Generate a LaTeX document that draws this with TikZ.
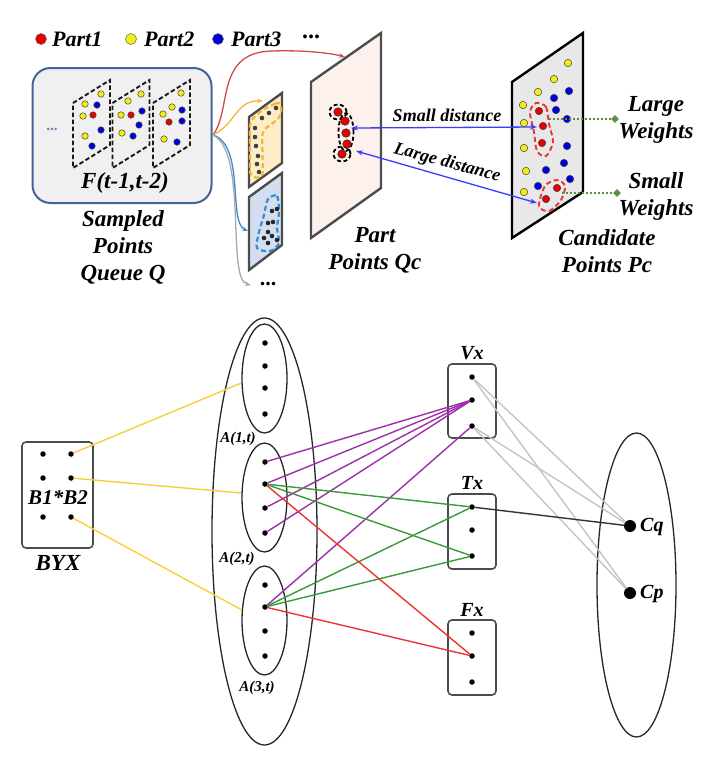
\documentclass[tikz,border=0pt]{standalone}
\usepackage{fontspec}
\setmainfont{Liberation Serif}
\usetikzlibrary{arrows.meta,shapes.geometric}
\definecolor{boxblue}{HTML}{41649B}
\definecolor{boxfill}{HTML}{F0F0F0}
\definecolor{rdot}{HTML}{E80000}
\definecolor{ydot}{HTML}{F2EE10}
\definecolor{bdot}{HTML}{0000DD}
\definecolor{arrred}{HTML}{D24A4A}
\definecolor{arrorange}{HTML}{F5B43A}
\definecolor{arrblue}{HTML}{3A8AD0}
\definecolor{arrgray}{HTML}{A8A8A8}
\definecolor{pinkfill}{HTML}{FDF1EE}
\definecolor{yelfill}{HTML}{FDEEC8}
\definecolor{bluefill}{HTML}{D3DFF0}
\definecolor{candfill}{HTML}{E8E8E8}
\definecolor{distblue}{HTML}{3B3BFF}
\definecolor{wgreen}{HTML}{5A8F3C}
\definecolor{lpurple}{HTML}{9B30A8}
\definecolor{lgreen}{HTML}{3A9A3A}
\definecolor{lred}{HTML}{EE3333}
\definecolor{lgray}{HTML}{C4C4C4}
\definecolor{lyellow}{HTML}{F8CF3A}
\begin{document}
\begin{tikzpicture}[x=1pt,y=-1pt,
  txt/.style={font=\fontsize{23}{27}\selectfont\bfseries\itshape, inner sep=0pt, align=center},
  legtxt/.style={font=\fontsize{22}{24}\selectfont\bfseries\itshape, inner sep=0pt, anchor=west},
  disttxt/.style={font=\fontsize{18}{20}\selectfont\bfseries\itshape, inner sep=0pt},
  atxt/.style={font=\fontsize{15}{18}\selectfont\bfseries\itshape, inner sep=0pt},
  gtxt/.style={font=\fontsize{20}{24}\selectfont\bfseries\itshape, inner sep=0pt},
  cdot/.style={circle, draw=black!75, line width=0.5pt, inner sep=0pt, minimum size=6.5pt},
  Rd/.style={cdot, fill=rdot},
  Yd/.style={cdot, fill=ydot},
  Bd/.style={cdot, fill=bdot},
  legdot/.style={circle, draw=black!60, line width=0.5pt, inner sep=0pt, minimum size=11pt},
  bigRd/.style={circle, draw=black!80, line width=0.6pt, fill=rdot, inner sep=0pt, minimum size=8.5pt},
  pdot/.style={circle, fill=black, inner sep=0pt, minimum size=5.5pt},
  bigdot/.style={circle, fill=black, inner sep=0pt, minimum size=12pt},
  panel/.style={line width=2.4pt, line join=miter},
  frame/.style={dashed, dash pattern=on 4.5pt off 2.5pt, line width=1.9pt, black!90},
  ell/.style={ellipse, draw=black!85, line width=1.3pt, inner sep=0pt},
  gbox/.style={draw=black!70, line width=1.6pt, rounded corners=4pt, inner sep=0pt},
  flow/.style={line width=1.3pt, -{Stealth[length=6pt,width=4.5pt]}},
  link/.style={line width=1.4pt},
  wdia/.style={diamond, fill=wgreen, inner sep=0pt, minimum size=8pt}
]
\useasboundingbox (0,0) rectangle (721,772);

% ---------------- legend ----------------
\node[legdot, fill=rdot] (lr) at (41,39) {};
\node[legtxt] (lrt) at (52,39) {Part1};
\node[legdot, fill=ydot] (ly) at (131,39) {};
\node[legtxt] (lyt) at (144,39) {Part2};
\node[legdot, fill=bdot] (lb) at (218,39) {};
\node[legtxt] (lbt) at (231,39) {Part3};
\node[font=\fontsize{24}{24}\selectfont\bfseries, inner sep=0pt] (ldots) at (311,37) {...};

% ---------------- sampled points queue ----------------
\node[draw=boxblue, fill=boxfill, line width=2pt, rounded corners=18pt,
      minimum width=179pt, minimum height=135pt, inner sep=0pt] (queue) at (122,135.5) {};
\foreach \o in {0,39.5,80} {
  \draw[frame] (73+\o,103) -- (110+\o,80) -- (110+\o,145) -- (73+\o,168) -- cycle;
}
\node[font=\fontsize{15}{15}\selectfont\bfseries, text=boxblue!80, inner sep=0pt] (qdots) at (52,129) {...};
% frame 1
\node[Yd] at (101,94) {}; \node[Yd] at (85,104) {}; \node[Bd] at (97,105) {};
\node[Yd] at (83,116) {}; \node[Rd] at (93,115) {}; \node[Bd] at (101,130) {};
\node[Yd] at (85,136) {}; \node[Bd] at (92,146) {};
% frame 2
\node[Yd] at (141,94) {}; \node[Yd] at (128,101) {}; \node[Bd] at (142,111) {};
\node[Yd] at (121,115) {}; \node[Rd] at (131,115) {}; \node[Bd] at (139,125) {};
\node[Yd] at (122,133) {}; \node[Bd] at (133,136) {};
% frame 3
\node[Yd] at (181,93) {}; \node[Yd] at (172,107) {}; \node[Bd] at (182,110) {};
\node[Yd] at (163,114) {}; \node[Rd] at (169,122) {}; \node[Bd] at (182,121) {};
\node[Yd] at (164,139) {}; \node[Bd] at (177,142) {};
\node[txt] (ftxt) at (125,183) {F(t-1,t-2)};
\node[txt] (qtxt) at (123,247) {Sampled\\Points\\Queue Q};

% ---------------- small panels ----------------
\draw[panel, draw=black!70, fill=yelfill] (249,117) -- (282,93) -- (282,163) -- (249,187) -- cycle;
\draw[panel, draw=black!70, fill=bluefill] (249,197) -- (282,173) -- (282,245) -- (249,270) -- cycle;
\draw[dashed, dash pattern=on 5pt off 3pt, arrorange, line width=2.2pt, rounded corners=6pt]
  (281,101) -- (262,110) -- (250,121) -- (250,177) -- (263,178) -- (262,131) -- (281,117) -- cycle;
\foreach \p in {(276,108),(269,113),(262,118),(255,128),(255,137),(256,146),(258,156),(257,164),(259,172)}
  \fill[black!75] \p circle (2.3pt);
\draw[dashed, dash pattern=on 5pt off 3pt, arrblue, line width=2.2pt]
  plot[smooth cycle] coordinates {(268,199) (277,196) (279,212) (277,228) (279,243) (270,251) (257,248) (259,232) (264,215)};
\foreach \p in {(272,211),(277,209),(268,223),(273,222),(268,232),(272,236),(264,238),(268,243),(277,240)}
  \fill[black!85] \p circle (2.3pt);
\node[font=\fontsize{22}{22}\selectfont\bfseries, inner sep=0pt] (gdots) at (268,284) {...};

% ---------------- flows ----------------
\coordinate (qout) at (213,135);
\draw[flow, arrred] (qout) .. controls (232,110) and (215,52) .. (272,51) .. controls (305,50) and (330,53) .. (345,57);
\draw[flow, arrorange] (qout) .. controls (236,124) and (236,100) .. (263,101);
\draw[flow, arrblue] (qout) .. controls (245,145) and (228,222) .. (248,231);
\draw[flow, arrgray] (qout) .. controls (248,152) and (226,280) .. (251,285);

% ---------------- part panel ----------------
\draw[panel, draw=black!70, fill=pinkfill] (311,82) -- (381,33) -- (381,188) -- (311,238) -- cycle;
\draw[dashed, dash pattern=on 4pt off 2.5pt, line width=1.8pt] (338,112) ellipse (8.5pt and 7.5pt);
\draw[dashed, dash pattern=on 4pt off 2.5pt, line width=1.8pt] (346,132) ellipse (7.5pt and 19pt);
\draw[dashed, dash pattern=on 4pt off 2.5pt, line width=1.8pt] (342,154) ellipse (8.5pt and 7.5pt);
\node[bigRd] (p1) at (338,112) {};
\node[bigRd] (p2) at (345,121) {};
\node[bigRd] (p3) at (346,133) {};
\node[bigRd] (p4) at (347,144) {};
\node[bigRd] (p5) at (342,154) {};
\node[txt] (ptxt) at (375,250) {Part\\Points Qc};

% ---------------- candidate panel ----------------
\draw[panel, draw=black, fill=candfill] (512,82) -- (583,33) -- (583,192) -- (512,238) -- cycle;
\foreach \p in {(568,63),(554,79),(538,92),(523,105),(524,123),(524,148),(526,171),(524,192)}
  \node[Yd, minimum size=7.5pt] at \p {};
\foreach \p in {(569,91),(554,98),(556,110),(567,119),(567,146),(564,163),(546,170),(570,179),(538,186)}
  \node[Bd, minimum size=7.5pt] at \p {};
\draw[dashed, dash pattern=on 5pt off 3pt, lred, line width=1.9pt]
  plot[smooth cycle] coordinates {(536,103) (546,107) (549,124) (553,142) (546,156) (537,151) (534,132) (530,112)};
\draw[dashed, dash pattern=on 5pt off 3pt, lred, line width=1.9pt]
  plot[smooth cycle] coordinates {(539,206) (549,211) (561,200) (565,186) (557,180) (545,186)};
\node[Rd, minimum size=7.5pt] (c1) at (539,111) {};
\node[Rd, minimum size=7.5pt] (c2) at (543,126) {};
\node[Rd, minimum size=7.5pt] (c3) at (542,143) {};
\node[Rd, minimum size=7.5pt] (c4) at (557,188) {};
\node[Rd, minimum size=7.5pt] (c5) at (546,199) {};
\node[txt] (ctxt) at (607,251) {Candidate\\Points Pc};

% distance arrows
\coordinate (sd1) at (351,128);
\coordinate (sd2) at (537,127);
\coordinate (ld1) at (356,151);
\coordinate (ld2) at (537,203);
\draw[distblue, line width=1.3pt, {Stealth[length=7pt,width=5pt]}-{Stealth[length=7pt,width=5pt]}] (sd1) -- (sd2);
\draw[distblue, line width=1.3pt, {Stealth[length=7pt,width=5pt]}-{Stealth[length=7pt,width=5pt]}] (ld1) -- (ld2);
\node[disttxt] (sdt) at (447,115) {Small distance};
\node[disttxt, rotate=-15] (ldt) at (447,163) {Large distance};

% weights
\coordinate (w1s) at (549,119);
\coordinate (w2s) at (562,193);
\node[wdia] (w1) at (615,119) {};
\node[wdia] (w2) at (617,193) {};
\draw[wgreen, line width=2.4pt, dash pattern=on 2pt off 2pt] (w1s) -- (w1);
\draw[wgreen, line width=2.4pt, dash pattern=on 2pt off 2pt] (w2s) -- (w2);
\node[txt] (lw) at (656,120) {Large\\Weights};
\node[txt] (sw) at (656,196) {Small\\Weights};

% ================= bottom graph =================
\node[gbox, minimum width=71pt, minimum height=106pt] (byx) at (57.5,495) {};
\node[pdot] (b11) at (43,454) {}; \node[pdot] (b12) at (71,454) {};
\node[pdot] (b21) at (43,478) {}; \node[pdot] (b22) at (71,478) {};
\node[pdot] (b31) at (43,517) {}; \node[pdot] (b32) at (71,517) {};
\node[txt, font=\fontsize{21}{24}\selectfont\bfseries\itshape] (bb) at (58,498) {B1*B2};
\node[txt, font=\fontsize{23}{26}\selectfont\bfseries\itshape] (byxt) at (58,563) {BYX};

\node[ell, minimum width=105pt, minimum height=427pt] (ebig) at (264.5,531.5) {};
\node[ell, minimum width=45pt, minimum height=109pt] (e1) at (264.5,378.5) {};
\node[ell, minimum width=45pt, minimum height=109pt] (e2) at (264.5,497.5) {};
\node[ell, minimum width=45pt, minimum height=109pt] (e3) at (264.5,620.5) {};
\node[pdot] (a11) at (265,343) {}; \node[pdot] (a12) at (265,366) {};
\node[pdot] (a13) at (265,388) {}; \node[pdot] (a14) at (265,414) {};
\node[pdot] (a21) at (265,462) {}; \node[pdot] (a22) at (265,484) {};
\node[pdot] (a23) at (265,508) {}; \node[pdot] (a24) at (265,533) {};
\node[pdot] (a31) at (265,585) {}; \node[pdot] (a32) at (265,607) {};
\node[pdot] (a33) at (265,631) {}; \node[pdot] (a34) at (265,656) {};
\node[atxt] (a1t) at (238,439) {A(1,t)};
\node[atxt] (a2t) at (237,559) {A(2,t)};
\node[atxt] (a3t) at (257,688) {A(3,t)};

\node[gbox, minimum width=48pt, minimum height=74pt] (vbox) at (472,401) {};
\node[gbox, minimum width=48pt, minimum height=75pt] (tbox) at (472,531.5) {};
\node[gbox, minimum width=48pt, minimum height=75pt] (fbox) at (472,657.5) {};
\node[pdot] (v1) at (472,377) {}; \node[pdot] (v2) at (472,400) {}; \node[pdot] (v3) at (472,426) {};
\node[pdot] (t1) at (472,507) {}; \node[pdot] (t2) at (472,530) {}; \node[pdot] (t3) at (472,556) {};
\node[pdot] (f1) at (472,633) {}; \node[pdot] (f2) at (472,656) {}; \node[pdot] (f3) at (472,682) {};
\node[gtxt] (vt) at (472,353) {Vx};
\node[gtxt] (tt) at (472,483) {Tx};
\node[gtxt] (ft) at (472,610) {Fx};

\node[ell, minimum width=79pt, minimum height=304pt] (ec) at (636.5,585) {};
\node[bigdot] (cq) at (630,526) {};
\node[bigdot] (cp) at (630,593) {};
\node[gtxt, anchor=west] (cqt) at (640,527) {Cq};
\node[gtxt, anchor=west] (cpt) at (640,594) {Cp};

% links
\draw[link, lyellow] (b12) -- (e1.191);
\draw[link, lyellow] (b22) -- (e2.169);
\draw[link, lyellow] (b32) -- (e3.155);
\foreach \a in {a21,a22,a23,a24} \draw[link, lpurple] (\a) -- (v2);
\draw[link, lpurple] (a32) -- (v3);
\draw[link, lgreen] (a22) -- (t1);
\draw[link, lgreen] (a22) -- (t3);
\draw[link, lgreen] (a32) -- (t1);
\draw[link, lgreen] (a32) -- (t3);
\draw[link, lred] (a22) -- (f2);
\draw[link, lred] (a32) -- (f2);
\draw[link, lgray] (v1) -- (cq);
\draw[link, lgray] (v1) -- (cp);
\draw[link, lgray] (v3) -- (cq);
\draw[link, lgray] (v3) -- (cp);
\draw[link, black!80] (t1) -- (cq);
\end{tikzpicture}
\end{document}
